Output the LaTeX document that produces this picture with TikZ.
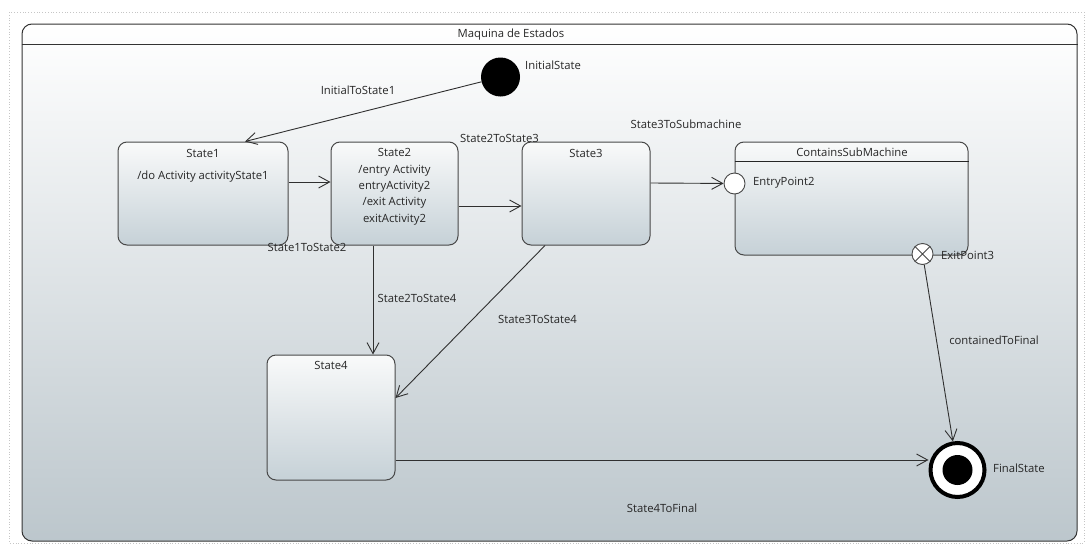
\documentclass[tikz,border=0pt]{standalone}
\usepackage{fontspec}
\setmainfont{Open Sans}
\usetikzlibrary{arrows.meta}

\definecolor{txtgray}{HTML}{262626}
\definecolor{linegray}{HTML}{303030}
\definecolor{boxgray}{HTML}{484848}
\definecolor{fadegray}{HTML}{C6D1D7}
\definecolor{topwhite}{HTML}{F9FAFA}

\tikzset{
  statebox/.style={draw=boxgray, line width=1pt, rounded corners=9pt,
    top color=topwhite, bottom color=fadegray, inner sep=0pt},
  trans/.style={draw=linegray, line width=0.9pt,
    -{Straight Barb[length=11pt, width=12pt, line width=0.9pt]}},
  pointnode/.style={circle, draw=boxgray, line width=0.9pt, fill=white,
    minimum size=21pt, inner sep=0pt},
  edgelabel/.style={inner sep=1pt}
}

\begin{document}
\begin{tikzpicture}[x=1pt, y=-1pt, font=\fontsize{11.3}{16.3}\selectfont, text=txtgray]
\useasboundingbox (0,0) rectangle (1091,546);
\draw[gray!45, dotted, line width=0.8pt] (9,12) rectangle (1084,543);

% outer state machine frame
\node (frame) [statebox, line width=1pt, draw=black!80, rounded corners=10pt,
  top color=white, bottom color=fadegray!95!black,
  minimum width=1055pt, minimum height=517pt] at (549.5,282.5) {};
\draw[black!80, line width=0.9pt] ([yshift=-21pt]frame.north west) -- ([yshift=-21pt]frame.north east);
\node (title) at (511,35) {Maquina de Estados};

% states
\node (init) [circle, fill=black, minimum size=39pt, inner sep=0pt] at (500.5,77) {};
\node (initlbl) [anchor=west, inner sep=0pt] at (525,65) {InitialState};

\node (s1) [statebox, minimum width=170pt, minimum height=103pt] at (203,193.5) {};
\node (s1name) at (203,153) {State1};
\node (s1do) at (203,177) {/do Activity activityState1};

\node (s2) [statebox, minimum width=127pt, minimum height=103pt] at (394.5,193.5) {};
\node (s2text) [align=center, anchor=north, inner sep=0pt] at (394.5,148.5) {State2\\/entry Activity\\entryActivity2\\/exit Activity\\exitActivity2};

\node (s3) [statebox, minimum width=128pt, minimum height=103pt] at (586,193.5) {};
\node (s3name) at (586,153) {State3};

\node (s4) [statebox, minimum width=128pt, minimum height=125pt] at (331,417.5) {};
\node (s4name) at (331,365) {State4};

\node (sub) [statebox, minimum width=233pt, minimum height=113pt] at (851.5,198.5) {};
\draw[black!85, line width=0.9pt] ([yshift=-20pt]sub.north west) -- ([yshift=-20pt]sub.north east);
\node (subname) at (852,152) {ContainsSubMachine};

\node (ep2) [pointnode] at (734.5,183.5) {};
\node (ep2lbl) [anchor=west, inner sep=0pt] at (753,183) {EntryPoint2};

\node (ex3) [pointnode] at (922.5,254) {};
\draw[boxgray, line width=0.9pt] (ex3.45) -- (ex3.225) (ex3.135) -- (ex3.315);
\node (ex3lbl) [anchor=west, inner sep=0pt] at (941,255) {ExitPoint3};

\node (fin) [circle, draw=black, line width=4pt, fill=white, minimum size=54pt, inner sep=0pt] at (957.5,470) {};
\node (findot) [circle, fill=black, minimum size=30pt, inner sep=0pt] at (fin.center) {};
\node (finlbl) [anchor=west, inner sep=0pt] at (993,468) {FinalState};

% transitions
\draw[trans] (init) -- ([xshift=42pt]s1.north);
\draw[trans] ([yshift=11.5pt]s1.east) coordinate (a12) -- (a12 -| s2.west);
\draw[trans] ([yshift=-12.5pt]s2.east) coordinate (a23) -- (a23 -| s3.west);
\draw[trans] ([xshift=-21.5pt]s2.south) coordinate (a24) -- (a24 |- s4.north);
\draw[trans] ([xshift=-41pt]s3.south) -- ([yshift=19.5pt]s4.east);
\draw[trans] ([yshift=10.5pt]s3.east) -- (ep2);
\draw[trans] (ex3) -- (fin);
\draw[trans] ([yshift=-42.5pt]s4.east) coordinate (a4f) -- (a4f -| fin.west);

% transition names
\node (t01) [edgelabel] at (358,90) {InitialToState1};
\node (t12) [edgelabel] at (307,247) {State1ToState2};
\node (t23) [edgelabel] at (499.5,138) {State2ToState3};
\node (t3s) [edgelabel] at (686,124) {State3ToSubmachine};
\node (t24) [edgelabel] at (417,298) {State2ToState4};
\node (t34) [edgelabel] at (537.5,319) {State3ToState4};
\node (tcf) [edgelabel] at (994,340) {containedToFinal};
\node (t4f) [edgelabel] at (662,508) {State4ToFinal};
\end{tikzpicture}
\end{document}
